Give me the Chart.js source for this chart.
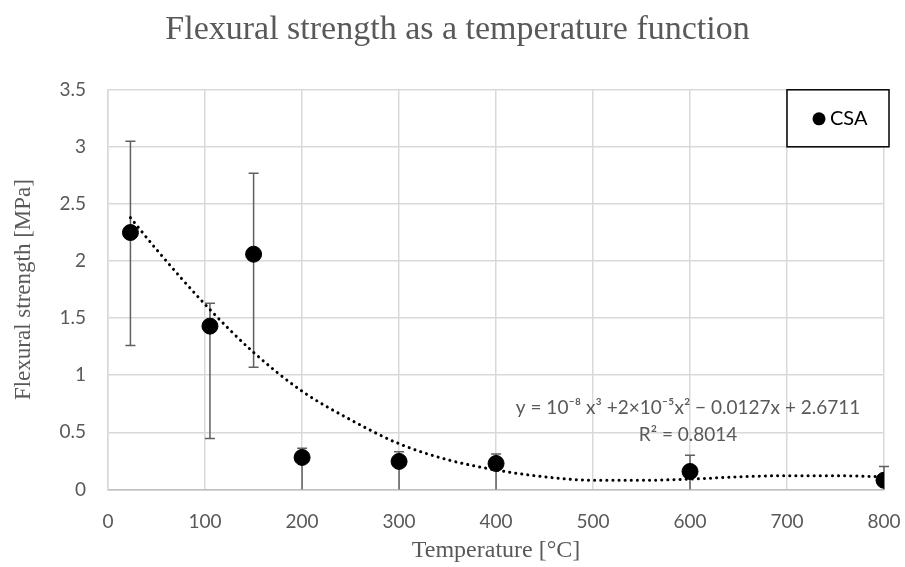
<!DOCTYPE html>
<html lang="en">
<head>
<meta charset="UTF-8" />
<title>Flexural strength as a temperature function</title>
<style>
  html, body { margin: 0; padding: 0; background: #fff; }
  #wrap { width: 905px; height: 567px; }
</style>
</head>
<body>
<div id="wrap"><canvas id="flexChart" width="905" height="567"></canvas></div>

<script src="https://cdn.jsdelivr.net/npm/chart.js"></script>
<script>
  // measured points (temperature in °C, strength in MPa)
  const temps = [23, 105, 150, 200, 300, 400, 600, 800];
  const strength = [2.25, 1.43, 2.06, 0.28, 0.245, 0.227, 0.157, 0.08];
  // error bar ends (upper / lower)
  const errHigh = [3.05, 1.63, 2.77, 0.36, 0.33, 0.31, 0.30, 0.20];
  const errLow = [1.26, 0.445, 1.07, 0, 0, 0, 0, 0];

  // dotted polynomial trend line
  const trendX = [23, 50, 100, 150, 200, 250, 300, 350, 400, 450, 500, 550, 600, 650, 700, 750, 800];
  const trendY = [2.38, 2.10, 1.62, 1.20, 0.86, 0.61, 0.40, 0.26, 0.17, 0.11, 0.08, 0.08, 0.09, 0.11, 0.12, 0.12, 0.11];

  const xTicks = [0, 100, 200, 300, 400, 500, 600, 700, 800];
  const yTicks = [0, 0.5, 1, 1.5, 2, 2.5, 3, 3.5];

  const eqLine1 = 'y = 10\u207B\u2078 x\u00B3 +2\u00D710\u207B\u2075x\u00B2 \u2212 0.0127x + 2.6711';
  const eqLine2 = 'R\u00B2 = 0.8014';

  const grey = '#595959';
  const tickFont = { family: 'Lato', size: 19 };

  // error bars behind the markers
  const errorBars = {
    id: 'errorBars',
    beforeDatasetsDraw(chart) {
      const { ctx, scales: { x, y } } = chart;
      ctx.save();
      ctx.strokeStyle = '#606060';
      ctx.lineWidth = 1.5;
      temps.forEach((t, i) => {
        const px = x.getPixelForValue(t);
        const top = y.getPixelForValue(errHigh[i]);
        const bot = y.getPixelForValue(errLow[i]);
        ctx.beginPath();
        ctx.moveTo(px, top); ctx.lineTo(px, bot);
        ctx.moveTo(px - 5, top); ctx.lineTo(px + 5, top);
        if (errLow[i] > 0) { ctx.moveTo(px - 5, bot); ctx.lineTo(px + 5, bot); }
        ctx.stroke();
      });
      ctx.restore();
    }
  };

  // boxed legend and the trend equation
  const extras = {
    id: 'extras',
    afterDraw(chart) {
      const { ctx, chartArea, scales: { x, y } } = chart;
      ctx.save();
      // legend box
      const bx = chartArea.right - 97, by = chartArea.top, bw = 102, bh = 57;
      ctx.fillStyle = '#fff';
      ctx.fillRect(bx, by, bw, bh);
      ctx.strokeStyle = '#000';
      ctx.lineWidth = 1.5;
      ctx.strokeRect(bx, by, bw, bh);
      ctx.fillStyle = '#000';
      ctx.beginPath();
      ctx.arc(bx + 32, by + 29, 6.5, 0, Math.PI * 2);
      ctx.fill();
      ctx.font = '20px Lato';
      ctx.textBaseline = 'middle';
      ctx.textAlign = 'left';
      ctx.fillText('CSA', bx + 43, by + 29);
      // equation
      ctx.fillStyle = grey;
      ctx.textAlign = 'center';
      ctx.font = '19px Lato';
      const cx = x.getPixelForValue(598);
      ctx.fillText(eqLine1, cx, y.getPixelForValue(0.71));
      ctx.fillText(eqLine2, cx, y.getPixelForValue(0.48));
      ctx.restore();
    }
  };

  new Chart(document.getElementById('flexChart'), {
    type: 'scatter',
    data: {
      datasets: [
        {
          label: 'CSA',
          data: temps.map((t, i) => ({ x: t, y: strength[i] })),
          backgroundColor: '#000',
          borderColor: '#000',
          pointRadius: 8,
          pointHoverRadius: 8,
          order: 1
        },
        {
          type: 'line',
          label: 'trend',
          data: trendX.map((t, i) => ({ x: t, y: trendY[i] })),
          borderColor: '#000',
          borderWidth: 3,
          borderDash: [0.1, 6],
          borderCapStyle: 'round',
          pointRadius: 0,
          fill: false,
          cubicInterpolationMode: 'monotone',
          order: 0
        }
      ]
    },
    options: {
      responsive: false,
      animation: false,
      layout: { padding: { left: 10, right: 0, top: 0, bottom: 2 } },
      plugins: {
        legend: { display: false },
        tooltip: { enabled: false },
        title: {
          display: true,
          text: 'Flexural strength as a temperature function',
          color: grey,
          font: { family: 'Liberation Serif', size: 34, weight: 'normal' },
          padding: { top: 10, bottom: 39 }
        }
      },
      scales: {
        x: {
          type: 'linear',
          min: 0, max: 800,
          afterBuildTicks: (s) => { s.ticks = xTicks.map(v => ({ value: v })); },
          afterFit: (s) => { s.paddingRight = 21; },
          grid: { color: '#d9d9d9', lineWidth: 1.5, drawTicks: false },
          border: { color: '#bfbfbf', width: 1.5 },
          ticks: { color: grey, font: tickFont, padding: 21 },
          title: {
            display: true, text: 'Temperature [\u00B0C]', color: grey,
            font: { family: 'Liberation Serif', size: 24 }, padding: { top: -18, bottom: 0 }
          }
        },
        y: {
          min: 0, max: 3.5,
          afterBuildTicks: (s) => { s.ticks = yTicks.map(v => ({ value: v })); },
          grid: { color: '#d9d9d9', lineWidth: 1.5, drawTicks: false },
          border: { color: '#d9d9d9', width: 1.5 },
          ticks: { color: grey, font: tickFont, padding: 22, callback: (v) => String(v) },
          title: {
            display: true, text: 'Flexural strength [MPa]', color: grey,
            font: { family: 'Liberation Serif', size: 23 }, padding: { top: 0, bottom: 0 }
          }
        }
      }
    },
    plugins: [errorBars, extras]
  });
</script>
</body>
</html>
